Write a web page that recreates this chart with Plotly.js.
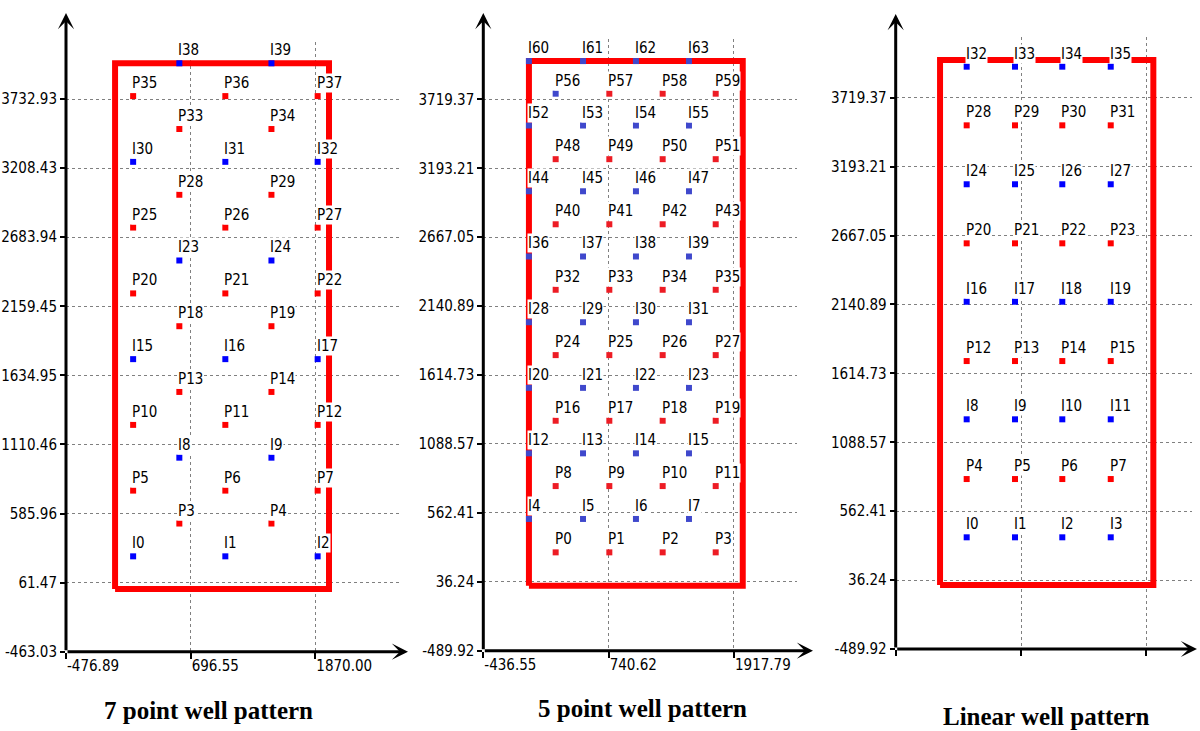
<!DOCTYPE html>
<html>
<head>
<meta charset="utf-8">
<script src="https://cdn.plot.ly/plotly-3.0.1.min.js"></script>
<style>html,body{margin:0;padding:0;background:#fff;}#chart{width:1200px;height:731px;}</style>
</head>
<body>
<div id="chart"></div>
<script>
// ---------- 7 point well pattern ----------
const sevenXTicks = [-476.89, 696.55, 1870.00];
const sevenXTickText = ['-476.89', '696.55', '1870.00'];
const sevenYTicks = [-463.03, 61.47, 585.96, 1110.46, 1634.95, 2159.45, 2683.94, 3208.43, 3732.93];
const sevenYTickText = ['-463.03', '61.47', '585.96', '1110.46', '1634.95', '2159.45', '2683.94', '3208.43', '3732.93'];
const sevenRectX = [-15, 1999, 1999, -15, -15];
const sevenRectY = [13, 13, 4004, 4004, 13];
const sevenInjLabels = ['I0','I1','I2','I8','I9','I15','I16','I17','I23','I24','I30','I31','I32','I38','I39'];
const sevenInjX = [155, 1023, 1892, 590, 1457, 155, 1023, 1892, 590, 1457, 155, 1023, 1892, 590, 1457];
const sevenInjY = [261, 261, 261, 1010, 1010, 1758, 1758, 1758, 2507, 2507, 3256, 3256, 3256, 4004, 4004];
const sevenProdLabels = ['P3','P4','P5','P6','P7','P10','P11','P12','P13','P14','P18','P19','P20','P21','P22','P25','P26','P27','P28','P29','P33','P34','P35','P36','P37'];
const sevenProdX = [590, 1457, 155, 1023, 1892, 155, 1023, 1892, 590, 1457, 590, 1457, 155, 1023, 1892, 155, 1023, 1892, 590, 1457, 590, 1457, 155, 1023, 1892];
const sevenProdY = [510, 510, 760, 760, 760, 1259, 1259, 1259, 1509, 1509, 2008, 2008, 2257, 2257, 2257, 2757, 2757, 2757, 3006, 3006, 3505, 3505, 3755, 3755, 3755];

// ---------- 5 point well pattern ----------
const fiveXTicks = [-436.55, 740.62, 1917.79];
const fiveXTickText = ['-436.55', '740.62', '1917.79'];
const fiveYTicks = [-489.92, 36.24, 562.41, 1088.57, 1614.73, 2140.89, 2667.05, 3193.21, 3719.37];
const fiveYTickText = ['-489.92', '36.24', '562.41', '1088.57', '1614.73', '2140.89', '2667.05', '3193.21', '3719.37'];
const fiveRectX = [-8, 2000, 2000, -8, -8];
const fiveRectY = [6, 6, 4012, 4012, 6];
const fiveInjLabels = ['I4','I5','I6','I7','I12','I13','I14','I15','I20','I21','I22','I23','I28','I29','I30','I31','I36','I37','I38','I39','I44','I45','I46','I47','I52','I53','I54','I55','P56','I60','I61','I62','I63'];
const fiveInjX = [-8, 500, 997, 1495, -8, 500, 997, 1495, -8, 500, 997, 1495, -8, 500, 997, 1495, -8, 500, 997, 1495, -8, 500, 997, 1495, -8, 500, 997, 1495, 243, -8, 500, 997, 1495];
const fiveInjY = [516, 516, 516, 516, 1017, 1017, 1017, 1017, 1517, 1517, 1517, 1517, 2018, 2018, 2018, 2018, 2520, 2520, 2520, 2520, 3018, 3018, 3018, 3018, 3520, 3520, 3520, 3520, 3763, 4012, 4012, 4012, 4012];
const fiveProdLabels = ['P0','P1','P2','P3','P8','P9','P10','P11','P16','P17','P18','P19','P24','P25','P26','P27','P32','P33','P34','P35','P40','P41','P42','P43','P48','P49','P50','P51','P57','P58','P59'];
const fiveProdX = [243, 747, 1248, 1746, 243, 747, 1248, 1746, 243, 747, 1248, 1746, 243, 747, 1248, 1746, 243, 747, 1248, 1746, 243, 747, 1248, 1746, 243, 747, 1248, 1746, 747, 1248, 1746];
const fiveProdY = [261, 261, 261, 261, 767, 767, 767, 767, 1266, 1266, 1266, 1266, 1767, 1767, 1767, 1767, 2266, 2266, 2266, 2266, 2766, 2766, 2766, 2766, 3263, 3263, 3263, 3263, 3763, 3763, 3763];

// ---------- Linear well pattern ----------
const linXTicks = [-436.55, 740.62, 1917.79];
const linYTicks = [-489.92, 36.24, 562.41, 1088.57, 1614.73, 2140.89, 2667.05, 3193.21, 3719.37];
const linYTickText = ['-489.92', '36.24', '562.41', '1088.57', '1614.73', '2140.89', '2667.05', '3193.21', '3719.37'];
const linRectX = [-20, 1983, 1983, -20, -20];
const linRectY = [-1, -1, 4008, 4008, -1];
const linInjLabels = ['I0','I1','I2','I3','I8','I9','I10','I11','I16','I17','I18','I19','I24','I25','I26','I27','I32','I33','I34','I35'];
const linInjX = [230, 684, 1128, 1583, 230, 684, 1128, 1583, 230, 684, 1128, 1583, 230, 684, 1128, 1583, 230, 684, 1128, 1583];
const linInjY = [363, 363, 363, 363, 1264, 1264, 1264, 1264, 2162, 2162, 2162, 2162, 3059, 3059, 3059, 3059, 3957, 3957, 3957, 3957];
const linProdLabels = ['P4','P5','P6','P7','P12','P13','P14','P15','P20','P21','P22','P23','P28','P29','P30','P31'];
const linProdX = [230, 684, 1128, 1583, 230, 684, 1128, 1583, 230, 684, 1128, 1583, 230, 684, 1128, 1583];
const linProdY = [808, 808, 808, 808, 1709, 1709, 1709, 1709, 2608, 2608, 2608, 2608, 3509, 3509, 3509, 3509];

const panelTitles = ['7 point well pattern', '5 point well pattern', 'Linear well pattern'];

// ---------- styling / geometry ----------
const W = 1200, H = 731;
const NARROW = "'Liberation Sans Narrow', 'DejaVu Sans Condensed', 'Arial Narrow', sans-serif";
const px = v => v / W;
const py = v => 1 - v / H;

const panels = [
  {ax: '', rectX: sevenRectX, rectY: sevenRectY, inj: [sevenInjX, sevenInjY, sevenInjLabels], prod: [sevenProdX, sevenProdY, sevenProdLabels],
   blue: '#0000ff', red: '#ff0000',
   xd: [66, 400], yd: [651.7, 42], xr: [-476.89, 2667.2], yr: [-463.03, 4165.7],
   xt: sevenXTicks, xtt: sevenXTickText, showX: true, yt: sevenYTicks, ytt: sevenYTickText,
   arrowX: 408, arrowY: 13, title: [208, 710]},
  {ax: '2', rectX: fiveRectX, rectY: fiveRectY, inj: [fiveInjX, fiveInjY, fiveInjLabels], prod: [fiveProdX, fiveProdY, fiveProdLabels],
   blue: '#3f48cc', red: '#ed1c24',
   xd: [483.3, 797], yd: [650.7, 39], xr: [-436.55, 2509.5], yr: [-489.92, 4180.6],
   xt: fiveXTicks, xtt: fiveXTickText, showX: true, yt: fiveYTicks, ytt: fiveYTickText,
   arrowX: 813, arrowY: 13, title: [642, 708]},
  {ax: '3', rectX: linRectX, rectY: linRectY, inj: [linInjX, linInjY, linInjLabels], prod: [linProdX, linProdY, linProdLabels],
   blue: '#0000ff', red: '#ff0000',
   xd: [895.7, 1192], yd: [649, 37], xr: [-436.55, 2346.1], yr: [-489.92, 4183.6],
   xt: linXTicks, xtt: linXTicks.map(String), showX: false, yt: linYTicks, ytt: linYTickText,
   arrowX: 1197, arrowY: 14, title: [1046, 716]}
];

const traces = [];
const annotations = [];
const layout = {
  width: W, height: H,
  margin: {l: 0, r: 0, t: 0, b: 0},
  paper_bgcolor: '#ffffff', plot_bgcolor: 'rgba(0,0,0,0)',
  showlegend: false, hovermode: false,
  font: {family: NARROW, size: 15, color: '#000'}
};

panels.forEach(p => {
  const xa = 'x' + p.ax, ya = 'y' + p.ax;
  layout['xaxis' + p.ax] = {
    domain: [px(p.xd[0]), px(p.xd[1])], range: p.xr, anchor: ya,
    tickmode: 'array', tickvals: p.xt, ticktext: p.xtt, showticklabels: p.showX,
    ticklabelposition: 'outside right',
    ticks: 'outside', ticklen: 6, tickwidth: 2, tickcolor: '#000',
    showgrid: true, gridcolor: '#808080', gridwidth: 1, griddash: '3px,3px',
    zeroline: false, showline: false, fixedrange: true,
    tickfont: {family: NARROW, size: 15, color: '#000'}
  };
  layout['yaxis' + p.ax] = {
    domain: [py(p.yd[0]), py(p.yd[1])], range: p.yr, anchor: xa,
    tickmode: 'array', tickvals: p.yt, ticktext: p.ytt,
    ticks: 'outside', ticklen: 5, tickwidth: 2, tickcolor: '#000',
    showgrid: true, gridcolor: '#808080', gridwidth: 1, griddash: '3px,3px',
    zeroline: false, showline: false, fixedrange: true,
    tickfont: {family: NARROW, size: 15, color: '#000'}
  };
  // boundary rectangle
  traces.push({type: 'scatter', mode: 'lines', x: p.rectX, y: p.rectY, xaxis: xa, yaxis: ya,
    line: {color: '#ff0000', width: 6}, cliponaxis: false});
  // wells
  traces.push({type: 'scatter', mode: 'markers', x: p.inj[0], y: p.inj[1], xaxis: xa, yaxis: ya,
    marker: {symbol: 'square', size: 6, color: p.blue, line: {width: 0}}, cliponaxis: false});
  traces.push({type: 'scatter', mode: 'markers', x: p.prod[0], y: p.prod[1], xaxis: xa, yaxis: ya,
    marker: {symbol: 'square', size: 6, color: p.red, line: {width: 0}}, cliponaxis: false});
  // well labels
  [p.inj, p.prod].forEach(g => {
    g[2].forEach((lab, i) => {
      annotations.push({xref: xa, yref: ya, x: g[0][i], y: g[1][i], text: lab, showarrow: false,
        xanchor: 'left', yanchor: 'bottom', xshift: -2, yshift: 3, borderpad: 0,
        bgcolor: '#ffffff', font: {family: NARROW, size: 15, color: '#000'}});
    });
  });
  // axis arrows
  const ox = p.xd[0], oy = p.yd[0];
  annotations.push({xref: 'paper', yref: 'paper', x: px(ox), y: py(p.arrowY), ax: 0, ay: oy - p.arrowY,
    text: '', showarrow: true, arrowhead: 3, arrowsize: 0.9, arrowwidth: 3, arrowcolor: '#000'});
  annotations.push({xref: 'paper', yref: 'paper', x: px(p.arrowX), y: py(oy), ax: -(p.arrowX - ox), ay: 0,
    text: '', showarrow: true, arrowhead: 3, arrowsize: 0.9, arrowwidth: 3, arrowcolor: '#000'});
});

panelTitles.forEach((t, i) => {
  const pos = panels[i].title;
  annotations.push({xref: 'paper', yref: 'paper', x: px(pos[0]), y: py(pos[1]), text: '<b>' + t + '</b>',
    showarrow: false, xanchor: 'center', yanchor: 'middle',
    font: {family: "'Liberation Serif', 'Times New Roman', serif", size: 25, color: '#000'}});
});

layout.annotations = annotations;
Plotly.newPlot('chart', traces, layout, {staticPlot: true, displayModeBar: false});
</script>
</body>
</html>
